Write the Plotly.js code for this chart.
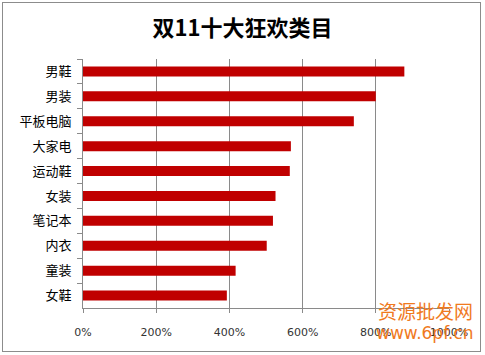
<!DOCTYPE html>
<html><head><meta charset="utf-8">
<script src="https://cdn.plot.ly/plotly-3.0.1.min.js"></script>
<style>
html,body{margin:0;padding:0;background:#fff;}
#wrap{position:relative;width:485px;height:355px;}
#chart{width:485px;height:355px;}
#frame{position:absolute;left:2px;top:2px;width:479px;height:350px;border:1px solid #8c8c8c;pointer-events:none;box-sizing:border-box;}
</style></head>
<body>
<div id="wrap"><div id="chart"></div><div id="frame"></div></div>
<script>
var categories = ["男鞋","男装","平板电脑","大家电","运动鞋","女装","笔记本","内衣","童装","女鞋"];
var values = [878, 800, 740, 568, 565, 526, 519, 502, 417, 393];
var tickVals = [0, 200, 400, 600, 800, 1000];
var tickText = ["0%","200%","400%","600%","800%","1000%"];
var titleText = "双11十大狂欢类目";
var watermark1 = "资源批发网";
var watermark2 = "www.6pf.cn";

Plotly.newPlot("chart", [{
  type: "bar",
  orientation: "h",
  y: categories,
  x: values,
  marker: {color: "#C00000", line: {width: 0}},
  hoverinfo: "skip"
}], {
  width: 485, height: 355,
  margin: {l: 83, r: 36, t: 59, b: 47, pad: 0},
  paper_bgcolor: "#fff", plot_bgcolor: "#fff",
  bargap: 0.6,
  showlegend: false,
  font: {family: "'Noto Sans CJK SC', 'Noto Sans', sans-serif", color: "#000"},
  title: {text: "<b>" + titleText + "</b>", x: 0.5, xanchor: "center", y: 0.92, yanchor: "middle",
          font: {size: 22, color: "#000", family: "'Noto Sans CJK SC', sans-serif"}},
  xaxis: {
    range: [0, 1000], tickvals: tickVals, ticktext: tickText,
    showgrid: true, gridcolor: "#8a8a8a", gridwidth: 1,
    zeroline: false, showline: true, linecolor: "#8a8a8a", linewidth: 1,
    ticks: "outside", ticklen: 4, tickcolor: "#8a8a8a",
    ticklabelstandoff: 10,
    tickfont: {size: 11, color: "#333", family: "'DejaVu Sans', sans-serif"},
    fixedrange: true
  },
  yaxis: {
    type: "category", autorange: "reversed",
    showgrid: false, zeroline: false,
    showline: true, linecolor: "#8a8a8a", linewidth: 1,
    ticks: "outside", ticklen: 5, tickcolor: "#8a8a8a", tickson: "boundaries",
    ticklabelstandoff: 8,
    tickfont: {size: 13, color: "#000", family: "'Noto Sans CJK SC', sans-serif"},
    fixedrange: true
  },
  annotations: [
    {text: watermark1, xref: "paper", yref: "paper", x: 1.07, y: -0.01, xanchor: "right", yanchor: "middle",
     showarrow: false, font: {size: 19, color: "#F07A1E", family: "'Noto Sans CJK SC', sans-serif"}},
    {text: watermark2, xref: "paper", yref: "paper", x: 1.07, y: -0.10, xanchor: "right", yanchor: "middle",
     showarrow: false, font: {size: 17, color: "#F07A1E", family: "'DejaVu Sans', sans-serif"}}
  ]
}, {displayModeBar: false, staticPlot: true});
</script>
</body></html>
